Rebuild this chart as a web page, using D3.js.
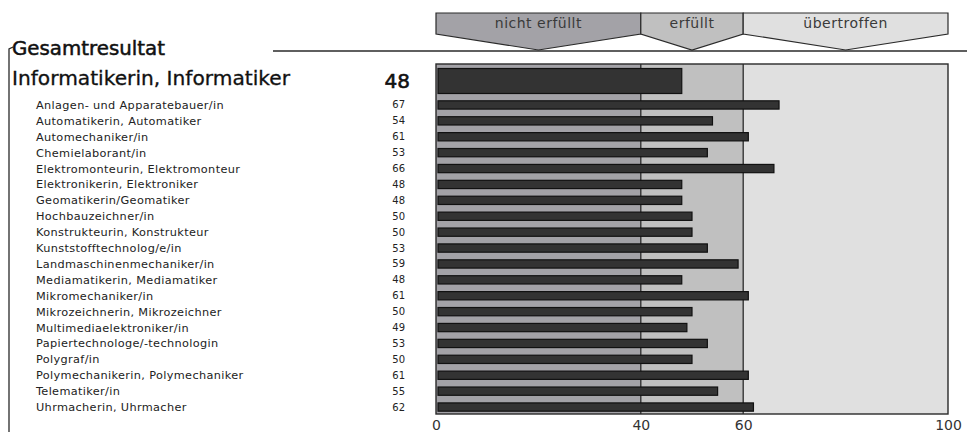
<!DOCTYPE html>
<html>
<head>
<meta charset="utf-8">
<script src="https://cdn.jsdelivr.net/npm/d3@7"></script>
<style>
  body { margin: 0; background: #fff; }
  svg { display: block; font-family: "DejaVu Sans", sans-serif; }
</style>
</head>
<body>
<div id="chart"></div>
<script>
// data
var title = "Gesamtresultat";
var mainName = "Informatikerin, Informatiker";
var mainValue = 48;

var professions = [
  "Anlagen- und Apparatebauer/in",
  "Automatikerin, Automatiker",
  "Automechaniker/in",
  "Chemielaborant/in",
  "Elektromonteurin, Elektromonteur",
  "Elektronikerin, Elektroniker",
  "Geomatikerin/Geomatiker",
  "Hochbauzeichner/in",
  "Konstrukteurin, Konstrukteur",
  "Kunststofftechnolog/e/in",
  "Landmaschinenmechaniker/in",
  "Mediamatikerin, Mediamatiker",
  "Mikromechaniker/in",
  "Mikrozeichnerin, Mikrozeichner",
  "Multimediaelektroniker/in",
  "Papiertechnologe/-technologin",
  "Polygraf/in",
  "Polymechanikerin, Polymechaniker",
  "Telematiker/in",
  "Uhrmacherin, Uhrmacher"
];
var values = [67, 54, 61, 53, 66, 48, 48, 50, 50, 53, 59, 48, 61, 50, 49, 53, 50, 61, 55, 62];

var zones = [
  { label: "nicht erfüllt", from: 0, to: 40, fill: "#a3a2a7" },
  { label: "erfüllt", from: 40, to: 60, fill: "#c0c0c0" },
  { label: "übertroffen", from: 60, to: 100, fill: "#e0e0e0" }
];
var tickValues = [0, 40, 60, 100];

// layout
var W = 967, H = 432;
var svg = d3.select("#chart").append("svg")
  .attr("width", W).attr("height", H);

var x = d3.scaleLinear().domain([0, 100]).range([436, 948]);
var plotTop = 64, plotBottom = 414;

var y = d3.scaleBand()
  .domain(professions)
  .range([97, 415])
  .paddingInner(0.48)
  .paddingOuter(0.24);

var ink = "#2a2a2a";

// ---- header arrows ----
var boxTop = 13, boxSide = 34, boxTip = 50;
var hdr = svg.append("g");
zones.forEach(function(z) {
  var x0 = x(z.from), x1 = x(z.to), xm = (x0 + x1) / 2;
  hdr.append("path")
    .attr("d", "M" + x0 + "," + boxTop + "L" + x1 + "," + boxTop +
      "L" + x1 + "," + boxSide + "L" + xm + "," + boxTip +
      "L" + x0 + "," + boxSide + "Z")
    .attr("fill", z.fill)
    .attr("stroke", ink)
    .attr("stroke-width", 1.2)
    .attr("stroke-linejoin", "miter");
  hdr.append("text")
    .attr("x", xm).attr("y", 28)
    .attr("text-anchor", "middle")
    .attr("font-size", 14)
    .attr("letter-spacing", 0.5)
    .attr("fill", "#3a3a3a")
    .text(z.label);
});

// horizontal rule under title
svg.append("line")
  .attr("x1", 273).attr("x2", W)
  .attr("y1", 51).attr("y2", 51)
  .attr("stroke", ink).attr("stroke-width", 1.3);

// left bracket
svg.append("path")
  .attr("d", "M13,47L9,49L9," + H)
  .attr("fill", "none")
  .attr("stroke", ink).attr("stroke-width", 1.3);

// titles
svg.append("text")
  .attr("x", 12).attr("y", 55)
  .attr("font-size", 19)
  .attr("fill", "#111")
  .attr("stroke", "#111").attr("stroke-width", 0.5)
  .attr("textLength", 153)
  .attr("lengthAdjust", "spacingAndGlyphs")
  .text(title);

svg.append("text")
  .attr("x", 12).attr("y", 85)
  .attr("font-size", 19)
  .attr("fill", "#111")
  .attr("stroke", "#111").attr("stroke-width", 0.3)
  .attr("textLength", 278)
  .attr("lengthAdjust", "spacingAndGlyphs")
  .text(mainName);

svg.append("text")
  .attr("x", 410).attr("y", 88)
  .attr("text-anchor", "end")
  .attr("font-size", 20)
  .attr("fill", "#111")
  .attr("stroke", "#111").attr("stroke-width", 0.6)
  .text(mainValue);

// ---- plot background zones ----
var plot = svg.append("g");
plot.selectAll("rect.zone")
  .data(zones)
  .enter().append("rect")
  .attr("class", "zone")
  .attr("x", d => x(d.from))
  .attr("y", plotTop)
  .attr("width", d => x(d.to) - x(d.from))
  .attr("height", plotBottom - plotTop)
  .attr("fill", d => d.fill);

// zone boundaries
plot.selectAll("line.div")
  .data([40, 60])
  .enter().append("line")
  .attr("x1", d => x(d)).attr("x2", d => x(d))
  .attr("y1", plotTop).attr("y2", plotBottom)
  .attr("stroke", ink).attr("stroke-width", 1.3);

// main bar
plot.append("rect")
  .attr("x", x(0) + 2)
  .attr("y", 68.5)
  .attr("width", x(mainValue) - x(0) - 2)
  .attr("height", 25)
  .attr("fill", "#333")
  .attr("stroke", "#111")
  .attr("stroke-width", 1.2);

// profession bars
plot.selectAll("rect.bar")
  .data(professions)
  .enter().append("rect")
  .attr("class", "bar")
  .attr("x", x(0) + 2)
  .attr("y", d => y(d))
  .attr("width", (d, i) => x(values[i]) - x(0) - 2)
  .attr("height", y.bandwidth())
  .attr("fill", "#333")
  .attr("stroke", "#111")
  .attr("stroke-width", 1.2);

// plot frame
plot.append("rect")
  .attr("x", x(0)).attr("y", plotTop)
  .attr("width", x(100) - x(0))
  .attr("height", plotBottom - plotTop)
  .attr("fill", "none")
  .attr("stroke", ink).attr("stroke-width", 1.4);

// x axis labels
var axis = d3.axisBottom(x).tickValues(tickValues).tickSize(0).tickPadding(6);
var ax = svg.append("g")
  .attr("transform", "translate(0," + plotBottom + ")")
  .call(axis);
ax.select(".domain").remove();
ax.selectAll("text")
  .attr("font-size", 14)
  .attr("font-family", "DejaVu Sans, sans-serif")
  .attr("fill", "#333");

// row labels & values
var rows = svg.append("g");
rows.selectAll("text.name")
  .data(professions)
  .enter().append("text")
  .attr("class", "name")
  .attr("x", 36)
  .attr("y", d => y(d) + y.bandwidth() / 2)
  .attr("dy", "0.35em")
  .attr("font-size", 11.3)
  .attr("letter-spacing", 0.35)
  .attr("fill", "#222")
  .text(d => d);

rows.selectAll("text.val")
  .data(values)
  .enter().append("text")
  .attr("class", "val")
  .attr("x", 405)
  .attr("y", (d, i) => y(professions[i]) + y.bandwidth() / 2)
  .attr("dy", "0.35em")
  .attr("text-anchor", "end")
  .attr("font-size", 10)
  .attr("fill", "#222")
  .text(d => d);
</script>
</body>
</html>
